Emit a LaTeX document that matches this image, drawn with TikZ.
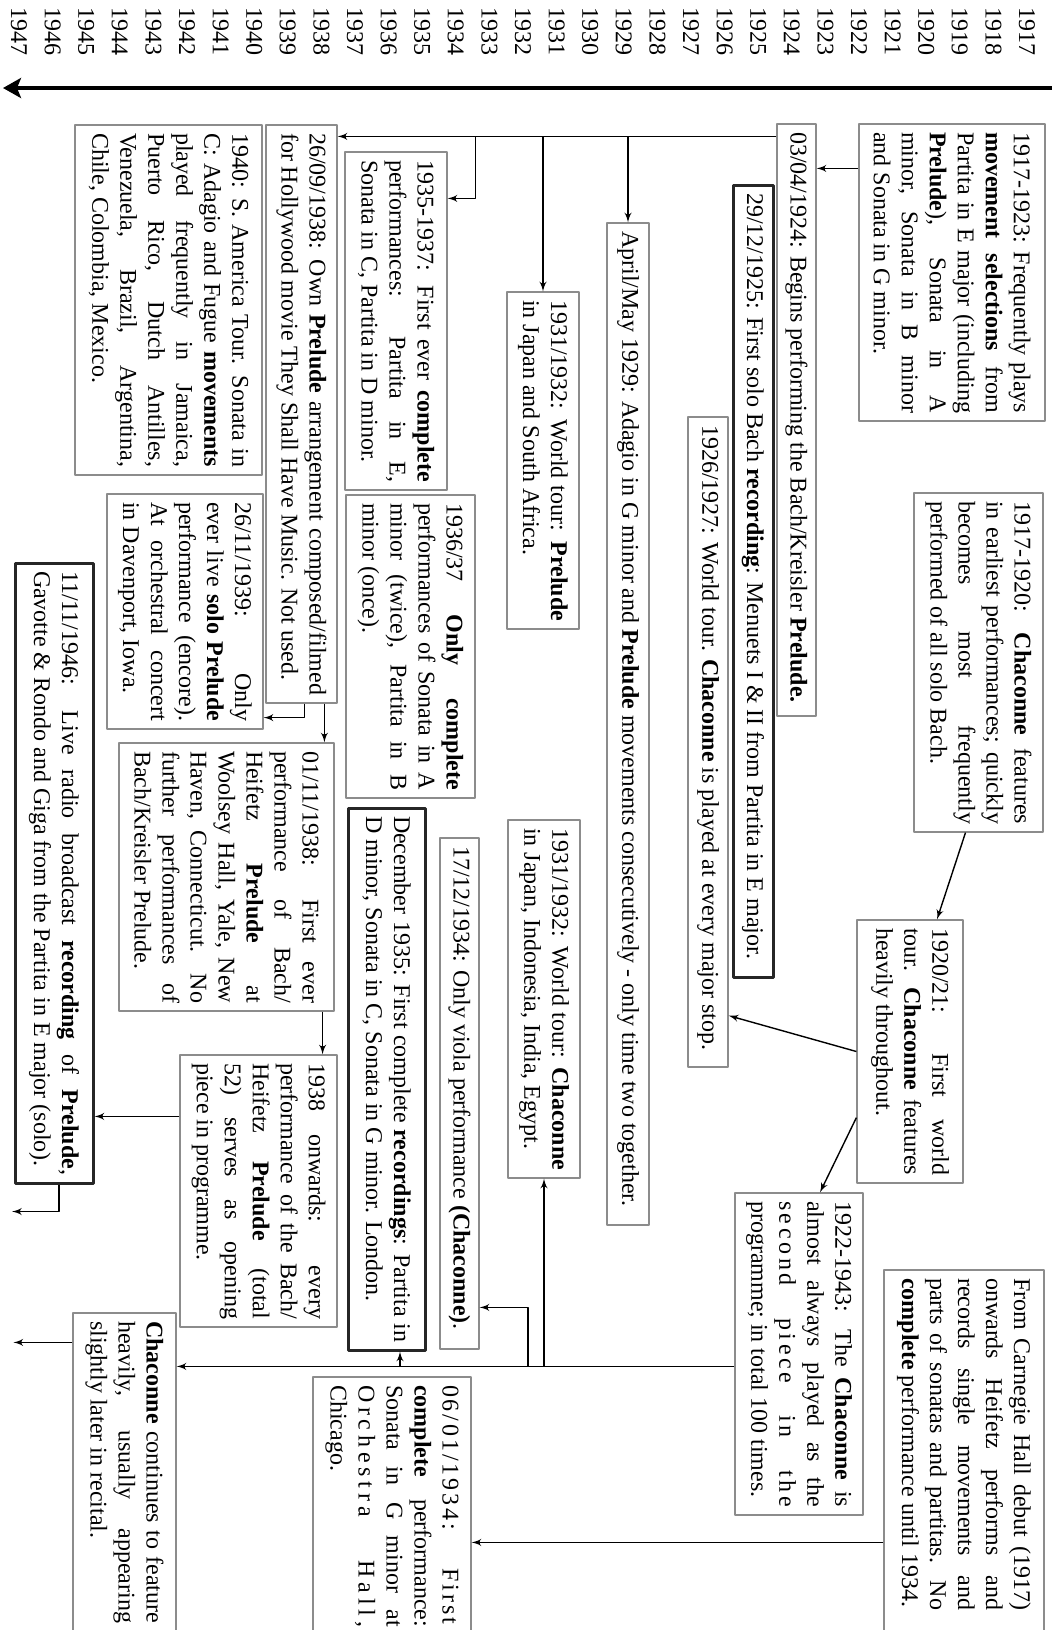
\documentclass[tikz,border=0pt]{standalone}
\usepackage{fontspec}
\setmainfont{Liberation Serif}
\usetikzlibrary{arrows,arrows.meta,calc}
\setlength{\parindent}{0pt}
\newcommand{\spaceout}[2][20]{{\addfontfeature{LetterSpace=#1}#2}}

\tikzset{
  event/.style={draw=black!45, line width=0.6pt, align=justify, inner xsep=4pt, inner ysep=1pt,
                font={\fontsize{12}{14}\selectfont\hyphenpenalty=10000\exhyphenpenalty=10000\tolerance=10000}},
  keyevent/.style={event, draw=black!85, line width=1.5pt},
  year/.style={font=\fontsize{12}{14}\selectfont, inner sep=0pt},
  link/.style={->, line width=0.7pt},
}

\begin{document}
\begin{tikzpicture}[x=0.5pt, y=0.5pt, rotate=-90, transform shape, >=latex', line join=bevel]
\useasboundingbox[fill=white] (0,0) rectangle (1630,1052);

% time axis
\foreach \yr [count=\i from 0] in {1917,...,1947}
  \node (y\yr) at (31,{1027-33.6*\i}) [year] {\yr};
\coordinate (axisstart) at (88,1052);
\coordinate (axisend) at (88,3);
\draw[line width=2pt,-{Stealth[length=9pt,width=10pt,inset=2pt]}] (axisstart) -- (axisend);

% events
\node (early) at (272.5,952) [event, text width=140.5pt, minimum height=93pt]
  {1917-1923: Frequently plays\linebreak \textbf{movement selections} from\linebreak Partita in E major (including\linebreak \textbf{Prelude}), Sonata in A\linebreak minor, Sonata in B minor\linebreak and Sonata in G minor.};
\node (kreisler) at (420,796.5) [event, text width=288pt, minimum height=19.5pt]
  {03/04/1924: Begins performing the Bach/Kreisler \textbf{Prelude.}};
\node (menuets) at (581,753) [keyevent, text width=388pt, minimum height=20pt]
  {29/12/1925: First solo Bach \textbf{recording}: Menuets I \& II from Partita in E major.};
\node (tour2627) at (742,708) [event, text width=317pt, minimum height=20pt]
  {1926/1927: World tour. \textbf{Chaconne} is played at every major stop.};
\node (together) at (724,628) [event, text width=493pt, minimum height=21pt]
  {April/May 1929: Adagio in G minor and \textbf{Prelude} movements consecutively - only time two together.};
\node (tourprelude) at (460.5,543) [event, text width=160.5pt, minimum height=36pt]
  {1931/1932: World tour: \textbf{Prelude}\linebreak in Japan and South Africa.};
\node (tourchaconne) at (999,544) [event, text width=171pt, minimum height=36pt]
  {1931/1932: World tour: \textbf{Chaconne}\linebreak in Japan, Indonesia, India, Egypt.};
\node (viola) at (1093.5,459.5) [event, text width=247.5pt, minimum height=19.5pt]
  {17/12/1934: Only viola performance \textbf{(Chaconne)}.};
\node (firstrec) at (1079,386.5) [keyevent, text width=263pt, minimum height=38.5pt]
  {December 1935: First complete \textbf{recordings}: Partita in\linebreak D minor, Sonata in C, Sonata in G minor. London.};
\node (firstcomplete) at (321,396) [event, text width=161pt, minimum height=51pt]
  {1935-1937: First ever \textbf{complete}\linebreak performances: Partita in E,\linebreak Sonata in C, Partita in D minor.};
\node (onlycomplete) at (646.5,410.5) [event, text width=143.5pt, minimum height=64.5pt]
  {1936/37 \textbf{Only complete}\linebreak performances of Sonata in A\linebreak minor (twice), Partita in B\linebreak minor (once).};
\node (hollywood) at (414,301.5) [event, text width=281pt, minimum height=35.5pt]
  {26/09/1938: Own \textbf{Prelude} arrangement composed/filmed\linebreak for Hollywood movie They Shall Have Music. Not used.};
\node (southam) at (300,168.5) [event, text width=167pt, minimum height=93.5pt]
  {1940: S. America Tour. Sonata in\linebreak C: Adagio and Fugue \textbf{movements}\linebreak played frequently in Jamaica,\linebreak Puerto Rico, Dutch Antilles,\linebreak Venezuela, Brazil, Argentina,\linebreak Chile, Colombia, Mexico.};
\node (solo) at (611.5,185) [event, text width=109.5pt, minimum height=78pt]
  {26/11/1939: Only\linebreak ever live \textbf{solo Prelude}\linebreak performance (encore).\linebreak At orchestral concert\linebreak in Davenport, Iowa.};
\node (yale) at (877,226.5) [event, text width=126pt, minimum height=107.5pt]
  {01/11/1938: First ever\linebreak performance of Bach/\linebreak Heifetz \textbf{Prelude} at\linebreak Woolsey Hall, Yale, New\linebreak Haven, Connecticut. No\linebreak further performances of\linebreak Bach/Kreisler Prelude.};
\node (opening) at (1191,258.5) [event, text width=128pt, minimum height=78.5pt]
  {1938 onwards: every\linebreak performance of the Bach/\linebreak Heifetz \textbf{Prelude} (total\linebreak 52) serves as opening\linebreak piece in programme.};
\node (radio) at (873,54) [keyevent, text width=302pt, minimum height=39pt]
  {11/11/1946: Live radio broadcast \textbf{recording} of \textbf{Prelude},\linebreak Gavotte \& Rondo and Giga from the Partita in E major (solo).};
\node (later) at (1486.5,124.5) [event, text width=165.5pt, minimum height=51.5pt]
  {\parbox{151pt}{\textbf{Chaconne} continues to feature\linebreak heavily, usually appearing\linebreak slightly later in recital.}};
\node (orchestra) at (1518.5,392) [event, text width=133.5pt, minimum height=79pt]
  {\parbox{121pt}{\spaceout[12]{06/01/1934:} \spaceout[12]{First}\linebreak \textbf{complete} performance:\linebreak Sonata in G minor at\linebreak \spaceout{Orchestra} \spaceout{Hall,}\linebreak Chicago.}};
\node (earliest) at (662.5,978.5) [event, text width=161.5pt, minimum height=64.5pt]
  {1917-1920: \textbf{Chaconne} features\linebreak in earliest performances; quickly\linebreak becomes most frequently\linebreak performed of all solo Bach.};
\node (firsttour) at (1051.5,910) [event, text width=123.5pt, minimum height=53pt]
  {1920/21: First world\linebreak tour. \textbf{Chaconne} features\linebreak heavily throughout.};
\node (second) at (1354,799) [event, text width=153pt, minimum height=64pt]
  {1922-1943: The \textbf{Chaconne} is\linebreak almost always played as the\linebreak \spaceout[15]{second piece in the}\linebreak programme; in total 100 times.};
\node (carnegie) at (1465,964) [event, text width=187pt, minimum height=80pt]
  {\parbox{166pt}{From Carnegie Hall debut (1917)\linebreak onwards Heifetz performs and\linebreak records single movements and\linebreak parts of sonatas and partitas. No\linebreak \textbf{complete} performance until 1934.}};

% Prelude line
\draw[link] (early.south west) ++(45,0) coordinate (p) -- (p |- kreisler.north);
\draw[link] (kreisler.south west) ++(13,0) coordinate (k) -- (k |- hollywood.north);
\draw[link] (k |- together.west) -- (together.west);
\draw[link] (k |- tourprelude.west) -- (tourprelude.west);
\draw[link] (k |- onlycomplete.north) -- ++(62,0) coordinate (e) -- (e |- firstcomplete.north);
\draw[link] (hollywood.south east) ++(0,39) -- ++(14,0) coordinate (h) -- (h |- solo.north);
\draw[link] (hollywood.south east) ++(0,59) coordinate (h2) -- (yale.west |- h2);
\draw[link] (yale.north east) ++(0,-12) coordinate (yl) -- (opening.west |- yl);
\draw[link] (opening.south west) ++(62,0) coordinate (o) -- (o |- radio.north);
\draw[link] (radio.east) ++(0,5) -- ++(27,0) -- ++(0,-47);

% Chaconne line
\draw[link] ($(earliest.east)+(0,-13)$) -- ($(firsttour.west)+(0,27)$);
\draw[link] (firsttour.south) -- ($(tour2627.north east)+(-52,0)$);
\draw[link] ($(firsttour.south east)+(-66,0)$) -- ($(second.west)+(0,21)$);
\draw[link] (second.south west) ++(174,0) coordinate (s) -- (s |- later.north);
\draw[link] (s |- tourchaconne.east) -- (tourchaconne.east);
\draw[link] (s |- tourchaconne.east) ++(0,-16) -- ++(-59,0) coordinate (t) -- (t |- viola.north);
\draw[link] ($(s |- firstrec.east)+(0,13.5)$) -- ($(firstrec.east)+(0,13.5)$);
\draw[link] (later.south west) ++(30,0) -- ++(0,-59);

% complete works
\draw[link] (carnegie.south west) ++(273,0) coordinate (c) -- (c |- orchestra.north);
\end{tikzpicture}
\end{document}
